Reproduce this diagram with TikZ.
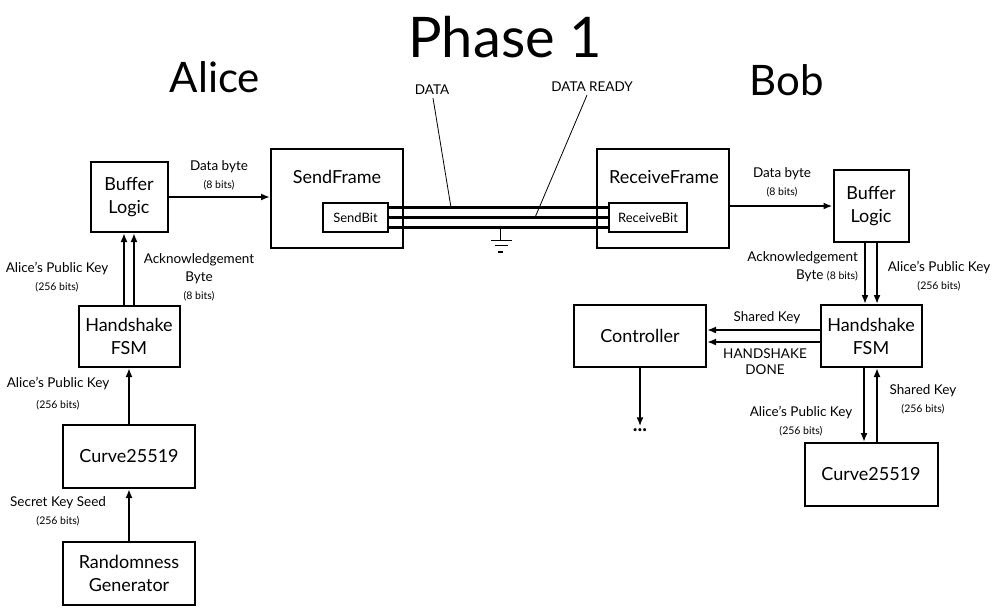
\documentclass[tikz,border=0pt]{standalone}
\usepackage{fontspec}
\setmainfont{Lato}
\usetikzlibrary{arrows.meta,positioning}
\newcommand{\bitsz}[1]{{\fontsize{10.5}{12}\selectfont #1}}
\tikzset{
	blk/.style={draw, line width=2pt, align=center, inner sep=0pt, font=\fontsize{18}{23}\selectfont},
	subblk/.style={draw, line width=2pt, inner sep=0pt, font=\fontsize{13}{15}\selectfont},
	lbl/.style={align=center, inner sep=0pt, font=\fontsize{13.5}{18}\selectfont},
	arr/.style={-{Latex[length=9pt,width=7pt]}, line width=2pt},
	wire/.style={line width=3.5pt},
	callout/.style={line width=0.8pt},
}
\begin{document}
\begin{tikzpicture}[x=1pt,y=-1pt]
	\useasboundingbox (0,0) rectangle (1003,614);
	\node[inner sep=0pt, font=\fontsize{56}{60}\selectfont] (title) at (505,37) {Phase 1};
	\node[inner sep=0pt, font=\fontsize{42}{46}\selectfont] (alice) at (215,77) {Alice};
	\node[inner sep=0pt, font=\fontsize{42}{46}\selectfont] (bob) at (787,80) {Bob};

	% Alice side
	\node[blk, minimum width=77pt, minimum height=70pt] (bufA) at (129,197) {Buffer\\Logic};
	\node[blk, minimum width=101pt, minimum height=61pt] (hsA) at (129,336.5) {Handshake\\FSM};
	\node[blk, minimum width=132pt, minimum height=63pt] (curA) at (129,456.5) {Curve25519};
	\node[blk, minimum width=132pt, minimum height=63pt] (rgA) at (129,573.5) {Randomness\\Generator};

	% frames and link
	\node[blk, minimum width=132pt, minimum height=99pt] (sendF) at (337,198.5) {};
	\node[lbl] (sendT) at (337,177) {\fontsize{18}{20}\selectfont SendFrame};
	\node[subblk, minimum width=65pt, minimum height=29pt] (sendB) at (355.5,217.5) {SendBit};
	\node[blk, minimum width=132pt, minimum height=99pt] (recvF) at (663,198.5) {};
	\node[lbl] (recvT) at (664,177) {\fontsize{18}{20}\selectfont ReceiveFrame};
	\node[subblk, minimum width=78pt, minimum height=29pt] (recvB) at (648,217.5) {ReceiveBit};
	\foreach \dy in {10,0,-10}
		\draw[wire] ([yshift=\dy pt]sendB.east) -- ([yshift=\dy pt]recvB.west);

	\node[lbl] (dataL) at (432,90) {DATA};
	\node[lbl] (readyL) at (592,87) {DATA READY};
	\coordinate (dataPt) at (451,207.5);
	\coordinate (readyPt) at (535,217.5);
	\draw[callout] ([xshift=1pt, yshift=-3pt]dataL.south) -- (dataPt);
	\draw[callout] ([xshift=-5pt, yshift=-3pt]readyL.south) -- (readyPt);

	% ground
	\coordinate (gnd) at (500.5,228);
	\draw[line width=1pt] (gnd) -- ++(0,12);
	\draw[line width=1pt] ([xshift=-10pt, yshift=-12pt]gnd) -- ++(21,0);
	\draw[line width=1pt] ([xshift=-6pt, yshift=-17.5pt]gnd) -- ++(13,0);
	\draw[line width=2pt] ([xshift=-2.5pt, yshift=-23.5pt]gnd) -- ++(5,0);

	% Bob side
	\node[blk, minimum width=75pt, minimum height=72pt] (bufB) at (871,206) {Buffer\\Logic};
	\node[blk, minimum width=101pt, minimum height=62pt] (hsB) at (871,336) {Handshake\\FSM};
	\node[blk, minimum width=133pt, minimum height=63pt] (curB) at (871,474.5) {Curve25519};
	\node[blk, minimum width=132pt, minimum height=62pt] (ctrl) at (640,336) {Controller};
	\node[lbl, font=\fontsize{20}{22}\bfseries] (dots) at (640,430) {...};

	% Alice connectors
	\draw[arr] (rgA.north) -- (curA.south);
	\draw[arr] (curA.north) -- (hsA.north |- hsA.south);
	\draw[arr] ([xshift=-5pt]hsA.north) -- ([xshift=-5pt]bufA.south);
	\draw[arr] ([xshift=5pt]hsA.north) -- ([xshift=5pt]bufA.south);
	\draw[arr] (bufA.east) -- (bufA.east -| sendF.west);

	% Bob connectors
	\draw[arr] (recvF.east |- bufB.west) -- (bufB.west);
	\draw[arr] ([xshift=-6pt]bufB.south) -- ([xshift=-6pt]hsB.north);
	\draw[arr] ([xshift=6pt]bufB.south) -- ([xshift=6pt]hsB.north);
	\draw[arr] ([yshift=6pt]hsB.west) -- ([yshift=6pt]ctrl.east);
	\draw[arr] ([yshift=-6pt]hsB.west) -- ([yshift=-6pt]ctrl.east);
	\draw[arr] (ctrl.south) -- ([yshift=2pt]dots.north);
	\draw[arr] ([xshift=-7pt]hsB.south) -- ([xshift=-7pt]curB.north);
	\draw[arr] ([xshift=6pt]curB.north) -- ([xshift=6pt]hsB.south);

	% labels
	\node[lbl] (dbA) at (219,175) {Data byte\\\bitsz{(8 bits)}};
	\node[lbl] (pkA) at (57,277) {Alice's Public Key\\\bitsz{(256 bits)}};
	\node[lbl] (ackA) at (199,277) {Acknowledgement\\Byte\\\bitsz{(8 bits)}};
	\node[lbl] (pkA2) at (58,394) {Alice's Public Key\\[3pt]\bitsz{(256 bits)}};
	\node[lbl] (seedA) at (58,511) {Secret Key Seed\\\bitsz{(256 bits)}};
	\node[lbl] (dbB) at (782,182) {Data byte\\\bitsz{(8 bits)}};
	\node[lbl, align=right, anchor=east] (ackB) at (858,267) {Acknowledgement\\Byte \bitsz{(8 bits)}};
	\node[lbl] (pkB) at (939,276) {Alice's Public Key\\\bitsz{(256 bits)}};
	\node[lbl] (skB) at (767,318) {Shared Key};
	\node[lbl] (doneB) at (765,362) {HANDSHAKE\\[-2pt]DONE};
	\node[lbl] (pkB2) at (801,421) {Alice's Public Key\\\bitsz{(256 bits)}};
	\node[lbl] (skB2) at (923,399) {Shared Key\\\bitsz{(256 bits)}};
\end{tikzpicture}
\end{document}
